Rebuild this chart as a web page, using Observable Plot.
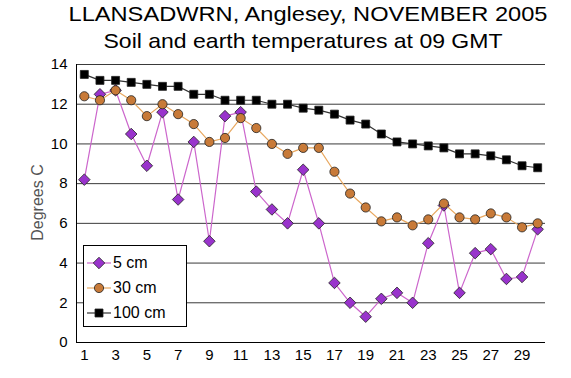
<!DOCTYPE html>
<html><head><meta charset="utf-8">
<script src="https://cdn.jsdelivr.net/npm/d3@7"></script>
<script src="https://cdn.jsdelivr.net/npm/@observablehq/plot@0.6"></script>
<style>
body{margin:0;background:#fff;font-family:"Liberation Sans",Arial,sans-serif}
#wrap{position:relative;width:571px;height:378px}
#legend{position:absolute;left:83px;top:245px;width:102px;height:80px;border:1px solid #000;background:#fff;font-size:16px;color:#000}
#legend .row{position:absolute;left:2px;height:20px;display:flex;align-items:center}
#legend .row span{margin-left:1px}
</style></head><body><div id="wrap"></div><script>
const days=[1,2,3,4,5,6,7,8,9,10,11,12,13,14,15,16,17,18,19,20,21,22,23,24,25,26,27,28,29,30];
const t5=[8.2,12.5,12.7,10.5,8.9,11.6,7.2,10.1,5.1,11.4,11.6,7.6,6.7,6.0,8.7,6.0,3.0,2.0,1.3,2.2,2.5,2.0,5.0,6.9,2.5,4.5,4.7,3.2,3.3,5.7];
const t30=[12.4,12.2,12.7,12.2,11.4,12.0,11.5,11.0,10.1,10.3,11.3,10.8,10.0,9.5,9.8,9.8,8.6,7.5,6.8,6.1,6.3,5.9,6.2,7.0,6.3,6.2,6.5,6.3,5.8,6.0];
const t100=[13.5,13.2,13.2,13.1,13.0,12.9,12.9,12.5,12.5,12.2,12.2,12.2,12.0,12.0,11.8,11.7,11.5,11.2,11.0,10.5,10.1,10.0,9.9,9.8,9.5,9.5,9.4,9.2,8.9,8.8];
const seriesNames=["5 cm","30 cm","100 cm"];
const xTicks=[1,3,5,7,9,11,13,15,17,19,21,23,25,27,29];
const yTicks=[0,2,4,6,8,10,12,14];
const titleText="LLANSADWRN, Anglesey, NOVEMBER 2005";
const subtitleText="Soil and earth temperatures at 09 GMT";
const yLabel="Degrees C";

const styles={
 "5 cm":{line:"#cc66cc",fill:"#9933cc",symbol:"diamond2",r:5.2},
 "30 cm":{line:"#e8a860",fill:"#c87a38",symbol:"circle",r:4.6},
 "100 cm":{line:"#333333",fill:"#000000",symbol:"square",r:4.5}
};
const rows5=days.map((d,i)=>({day:d,v:t5[i],s:"5 cm"}));
const rows30=days.map((d,i)=>({day:d,v:t30[i],s:"30 cm"}));
const rows100=days.map((d,i)=>({day:d,v:t100[i],s:"100 cm"}));
const sets={"5 cm":rows5,"30 cm":rows30,"100 cm":rows100};

const marks=[
 Plot.gridY(yTicks,{stroke:"#3a3a3a",strokeOpacity:1,strokeWidth:1}),
 Plot.ruleX([0.5],{stroke:"#000"}),
 Plot.ruleY([0],{stroke:"#000"}),
];
for(const s of seriesNames){
 const st=styles[s];
 marks.push(Plot.line(sets[s],{x:"day",y:"v",stroke:st.line,strokeWidth:1.2}));
 marks.push(Plot.dot(sets[s],{x:"day",y:"v",symbol:()=>st.symbol,fill:st.fill,stroke:"#222",strokeWidth:0.8,r:st.r}));
}
marks.push(
 Plot.axisX(xTicks,{tickSize:0,tickPadding:7,fontSize:15,fill:"#000",label:null}),
 Plot.axisY(yTicks,{tickSize:0,tickPadding:9,fontSize:15,fill:"#000",label:null}),
 Plot.text([yLabel],{frameAnchor:"left",dx:-39,dy:-1,rotate:-90,textAnchor:"middle",lineAnchor:"middle",fontSize:16,fill:"#555"}),
 Plot.text([titleText],{frameAnchor:"top",dx:-3,dy:-50,lineAnchor:"middle",fontSize:21,fill:"#000"}),
 Plot.text([subtitleText],{frameAnchor:"top",dx:-8,dy:-23,lineAnchor:"middle",fontSize:21,fill:"#000"})
);

const chart=Plot.plot({
 width:571,height:378,marginLeft:76,marginRight:26,marginTop:64,marginBottom:36,
 style:{fontFamily:"'Liberation Sans',Arial,sans-serif",background:"#fff"},
 x:{domain:[0.5,30.5],axis:null},
 y:{domain:[0,14],axis:null},
 symbol:{type:"identity"},
 marks
});
// stretch title lines to the reference's wider lettering
d3.select(chart).selectAll("text").each(function(){
 if(this.textContent===titleText) d3.select(this).attr("textLength",479).attr("lengthAdjust","spacingAndGlyphs");
 if(this.textContent===subtitleText) d3.select(this).attr("textLength",399).attr("lengthAdjust","spacingAndGlyphs");
});
const wrap=document.getElementById("wrap");
wrap.appendChild(chart);

// legend
const leg=document.createElement("div");leg.id="legend";
seriesNames.forEach((s,i)=>{
 const st=styles[s];
 const row=document.createElement("div");row.className="row";row.style.top=(7+i*25)+"px";
 const svg=d3.create("svg").attr("width",26).attr("height",20);
 svg.append("line").attr("x1",1).attr("x2",25).attr("y1",10).attr("y2",10).attr("stroke",st.line).attr("stroke-width",1.2);
 const sym={diamond2:d3.symbolDiamond2,circle:d3.symbolCircle,square:d3.symbolSquare}[st.symbol];
 svg.append("path").attr("d",d3.symbol(sym,Math.PI*st.r*st.r)()).attr("transform","translate(13,10)").attr("fill",st.fill).attr("stroke","#222").attr("stroke-width",0.8);
 row.appendChild(svg.node());
 const sp=document.createElement("span");sp.textContent=s;row.appendChild(sp);
 leg.appendChild(row);
});
wrap.appendChild(leg);
</script></body></html>
